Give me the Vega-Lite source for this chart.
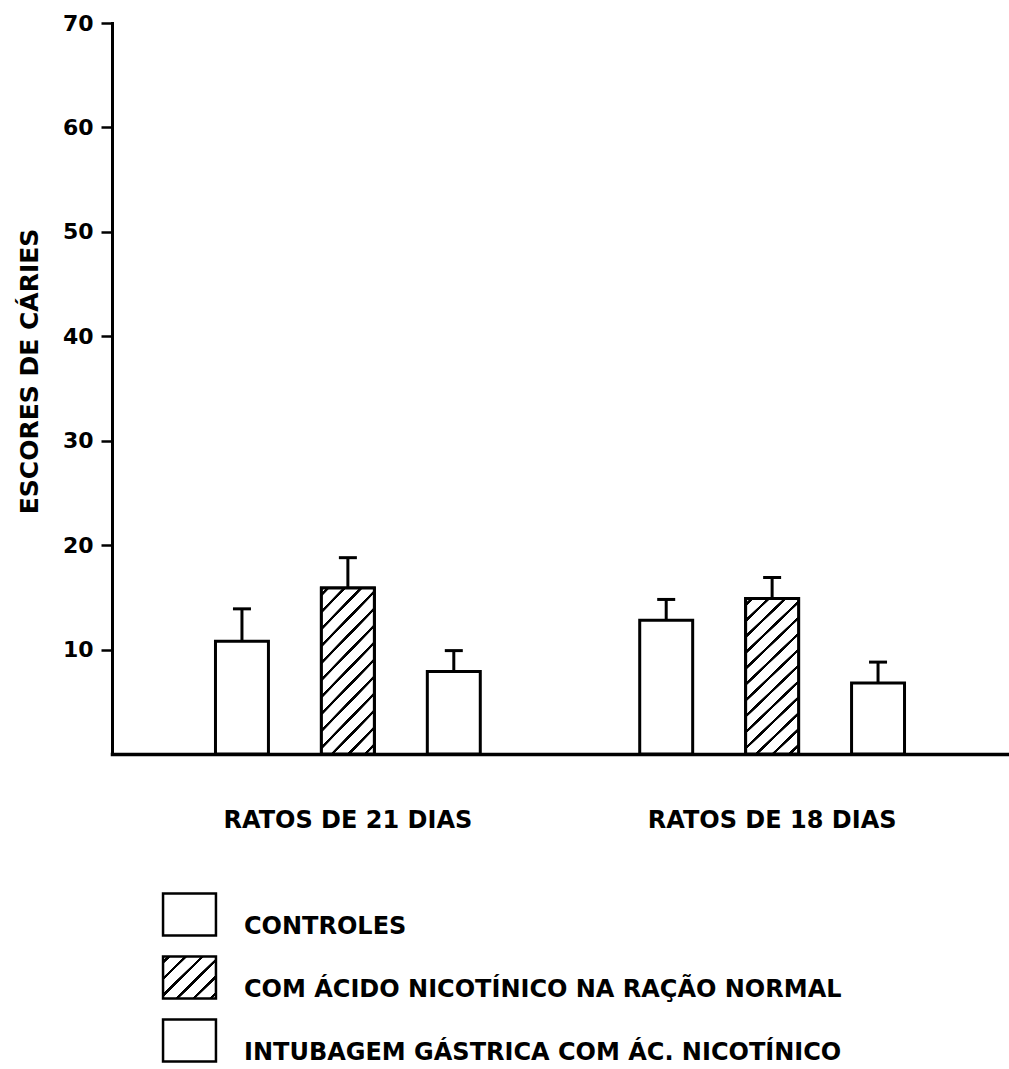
{
  "$schema": "https://vega.github.io/schema/vega-lite/v6.json",
  "autosize": {"type": "none"},
  "width": 896,
  "height": 731,
  "padding": {"left": 112, "top": 23, "right": 1, "bottom": 315},
  "background": "white",
  "config": {
    "view": {"stroke": null},
    "font": "DejaVu Sans"
  },
  "data": {
    "values": [
      {"grupo": "RATOS DE 21 DIAS", "serie": "CONTROLES", "valor": 10.8, "topo": 13.9},
      {"grupo": "RATOS DE 21 DIAS", "serie": "COM ÁCIDO NICOTÍNICO NA RAÇÃO NORMAL", "valor": 15.9, "topo": 18.8},
      {"grupo": "RATOS DE 21 DIAS", "serie": "INTUBAGEM GÁSTRICA COM ÁC. NICOTÍNICO", "valor": 7.9, "topo": 9.9},
      {"grupo": "RATOS DE 18 DIAS", "serie": "CONTROLES", "valor": 12.8, "topo": 14.8},
      {"grupo": "RATOS DE 18 DIAS", "serie": "COM ÁCIDO NICOTÍNICO NA RAÇÃO NORMAL", "valor": 14.9, "topo": 16.9},
      {"grupo": "RATOS DE 18 DIAS", "serie": "INTUBAGEM GÁSTRICA COM ÁC. NICOTÍNICO", "valor": 6.8, "topo": 8.8}
    ]
  },
  "encoding": {
    "x": {
      "field": "grupo", "type": "nominal",
      "sort": ["RATOS DE 21 DIAS", "RATOS DE 18 DIAS"],
      "scale": {"paddingInner": 0.251, "paddingOuter": 0.1815},
      "axis": {
        "title": null, "labelAngle": 0, "ticks": false, "tickSize": 0,
        "domainColor": "black", "domainWidth": 3.5, "domainCap": "square",
        "labelFont": "DejaVu Sans", "labelFontWeight": "bold", "labelFontSize": 24,
        "labelColor": "black", "labelPadding": 54, "labelLimit": 1000
      }
    },
    "xOffset": {
      "field": "serie", "type": "nominal",
      "sort": ["CONTROLES", "COM ÁCIDO NICOTÍNICO NA RAÇÃO NORMAL", "INTUBAGEM GÁSTRICA COM ÁC. NICOTÍNICO"],
      "scale": {"paddingInner": 0.5, "paddingOuter": 0.25}
    }
  },
  "layer": [
    {
      "mark": {"type": "bar", "opacity": 0},
      "encoding": {
        "y": {"field": "valor", "type": "quantitative"},
        "stroke": {
          "field": "serie", "type": "nominal",
          "scale": {
            "domain": ["CONTROLES", "COM ÁCIDO NICOTÍNICO NA RAÇÃO NORMAL", "INTUBAGEM GÁSTRICA COM ÁC. NICOTÍNICO"],
            "range": ["black", "black", "black"]
          },
          "legend": {
            "orient": "none", "legendX": 55, "legendY": 869, "title": null,
            "symbolType": "M-1.26,-1H1.26V1H-1.26Z", "symbolSize": 1764,
            "symbolStrokeWidth": 2.5, "symbolOpacity": 1,
            "labelFont": "DejaVu Sans", "labelFontWeight": "bold", "labelFontSize": 24,
            "labelColor": "black", "labelBaseline": "top", "labelOffset": 32,
            "rowPadding": 10, "padding": 0, "labelLimit": 1000,
            "encoding": {
              "symbols": {
                "opacity": {"value": 1},
                "fill": {
                  "condition": {
                    "test": "datum.value === 'COM ÁCIDO NICOTÍNICO NA RAÇÃO NORMAL'",
                    "value": {"gradient": "linear", "x1": 0, "y1": 0, "x2": 1.114, "y2": 0.9, "stops": [
                      {"offset": 0, "color": "white"},
                      {"offset": 0.04, "color": "white"}, {"offset": 0.043, "color": "black"}, {"offset": 0.077, "color": "black"}, {"offset": 0.08, "color": "white"},
                      {"offset": 0.213, "color": "white"}, {"offset": 0.216, "color": "black"}, {"offset": 0.25, "color": "black"}, {"offset": 0.253, "color": "white"},
                      {"offset": 0.386, "color": "white"}, {"offset": 0.389, "color": "black"}, {"offset": 0.423, "color": "black"}, {"offset": 0.426, "color": "white"},
                      {"offset": 0.559, "color": "white"}, {"offset": 0.562, "color": "black"}, {"offset": 0.596, "color": "black"}, {"offset": 0.599, "color": "white"},
                      {"offset": 0.732, "color": "white"}, {"offset": 0.735, "color": "black"}, {"offset": 0.769, "color": "black"}, {"offset": 0.772, "color": "white"},
                      {"offset": 0.905, "color": "white"}, {"offset": 0.908, "color": "black"}, {"offset": 0.942, "color": "black"}, {"offset": 0.945, "color": "white"},
                      {"offset": 1, "color": "white"}
                    ]}
                  },
                  "value": "white"
                },
                "fillOpacity": {"value": 1}
              }
            }
          }
        }
      }
    },
    {
      "mark": {"type": "bar", "fill": "white", "stroke": "black", "strokeWidth": 3},
      "encoding": {
        "y": {
          "field": "valor", "type": "quantitative",
          "scale": {"domain": [0, 70], "nice": false},
          "axis": {
            "title": "ESCORES DE CÁRIES", "values": [10, 20, 30, 40, 50, 60, 70],
            "grid": false, "tickSize": 11, "tickWidth": 2.5, "tickColor": "black",
            "domainColor": "black", "domainWidth": 3, "domainCap": "square",
            "labelFont": "DejaVu Sans", "labelFontWeight": "bold", "labelFontSize": 22,
            "labelColor": "black", "labelPadding": 8,
            "titleFont": "DejaVu Sans", "titleFontWeight": "bold", "titleFontSize": 25,
            "titleColor": "black", "titleX": -75, "titleY": 348, "titleBaseline": "alphabetic"
          }
        }
      }
    },
    {
      "transform": [{"filter": "datum.serie === 'COM ÁCIDO NICOTÍNICO NA RAÇÃO NORMAL'"}],
      "mark": {
        "type": "bar", "stroke": "black", "strokeWidth": 3,
        "fill": {"gradient": "linear", "x1": 0, "y1": 0, "x2": 0.409, "y2": 1.25, "stops": [
          {"offset": 0, "color": "white"},
          {"offset": 0.021, "color": "white"}, {"offset": 0.023, "color": "black"}, {"offset": 0.037, "color": "black"}, {"offset": 0.039, "color": "white"},
          {"offset": 0.095, "color": "white"}, {"offset": 0.097, "color": "black"}, {"offset": 0.111, "color": "black"}, {"offset": 0.113, "color": "white"},
          {"offset": 0.169, "color": "white"}, {"offset": 0.171, "color": "black"}, {"offset": 0.185, "color": "black"}, {"offset": 0.187, "color": "white"},
          {"offset": 0.243, "color": "white"}, {"offset": 0.245, "color": "black"}, {"offset": 0.259, "color": "black"}, {"offset": 0.261, "color": "white"},
          {"offset": 0.317, "color": "white"}, {"offset": 0.319, "color": "black"}, {"offset": 0.333, "color": "black"}, {"offset": 0.335, "color": "white"},
          {"offset": 0.391, "color": "white"}, {"offset": 0.393, "color": "black"}, {"offset": 0.407, "color": "black"}, {"offset": 0.409, "color": "white"},
          {"offset": 0.465, "color": "white"}, {"offset": 0.467, "color": "black"}, {"offset": 0.481, "color": "black"}, {"offset": 0.483, "color": "white"},
          {"offset": 0.539, "color": "white"}, {"offset": 0.541, "color": "black"}, {"offset": 0.555, "color": "black"}, {"offset": 0.557, "color": "white"},
          {"offset": 0.613, "color": "white"}, {"offset": 0.615, "color": "black"}, {"offset": 0.629, "color": "black"}, {"offset": 0.631, "color": "white"},
          {"offset": 0.687, "color": "white"}, {"offset": 0.689, "color": "black"}, {"offset": 0.703, "color": "black"}, {"offset": 0.705, "color": "white"},
          {"offset": 0.761, "color": "white"}, {"offset": 0.763, "color": "black"}, {"offset": 0.777, "color": "black"}, {"offset": 0.779, "color": "white"},
          {"offset": 0.835, "color": "white"}, {"offset": 0.837, "color": "black"}, {"offset": 0.851, "color": "black"}, {"offset": 0.853, "color": "white"},
          {"offset": 0.909, "color": "white"}, {"offset": 0.911, "color": "black"}, {"offset": 0.925, "color": "black"}, {"offset": 0.927, "color": "white"},
          {"offset": 1, "color": "white"}
        ]}
      },
      "encoding": {
        "y": {"field": "valor", "type": "quantitative"}
      }
    },
    {
      "mark": {"type": "rule", "stroke": "black", "strokeWidth": 3},
      "encoding": {
        "y": {"field": "valor", "type": "quantitative"},
        "y2": {"field": "topo"}
      }
    },
    {
      "mark": {"type": "tick", "color": "black", "size": 18, "thickness": 3, "opacity": 1},
      "encoding": {
        "y": {"field": "topo", "type": "quantitative"}
      }
    }
  ]
}
